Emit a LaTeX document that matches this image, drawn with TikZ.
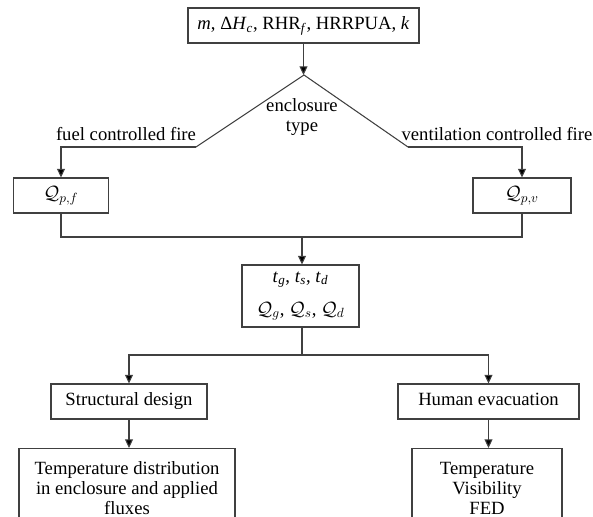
\documentclass[tikz,border=0pt]{standalone}
\usepackage{fontspec}
\setmainfont{Liberation Serif}
\usetikzlibrary{arrows.meta}
\begin{document}
\begin{tikzpicture}[x=0.75pt,y=-0.75pt,
  box/.style={draw=black!75, line width=0.8pt, inner sep=0pt, font=\fontsize{14}{15}\selectfont},
  onebox/.style={box, text height=10pt, text depth=3.5pt},
  lbl/.style={inner sep=0pt, font=\fontsize{14}{15}\selectfont, align=center},
  conn/.style={draw=black!75, line width=0.8pt},
  arr/.style={conn, -{Triangle[length=6.5pt,width=6pt,fill=black]}}]
\clip (0,0) rectangle (593,517);
\node[onebox, minimum width=173.25pt, minimum height=26.25pt] (top) at (303.5,25.5)
  {\textit{m}, Δ\textit{H}\textsubscript{\textit{c}}, RHR\textsubscript{\textit{f}}, HRRPUA, \textit{k}};
\coordinate (apex) at (304,75);
\coordinate (tl) at (196,147);
\coordinate (tr) at (408,147);
\draw[conn] (tl) -- (apex) -- (tr);
\node[lbl] (encl) at (302,117) {enclosure\\type};
\node[lbl] (fuel) at (126,134) {fuel controlled fire};
\node[lbl] (vent) at (497,134) {ventilation controlled fire};
\node[onebox, minimum width=71.25pt, minimum height=26.25pt] (qpf) at (61,195.5) {$\mathcal{Q}_{p,f}$};
\node[onebox, minimum width=73.5pt, minimum height=26.25pt] (qpv) at (522,195.5) {$\mathcal{Q}_{p,v}$};
\draw[arr] (top.south) -- (top.south |- apex);
\draw[arr] (tl) -| (qpf.north);
\draw[arr] (tr) -| (qpv.north);
\coordinate (j1) at (302,237);
\draw[conn] (qpf.south) |- (j1) -| (qpv.south);
\node[box, minimum width=87.75pt, minimum height=46.5pt, align=center, font=\fontsize{14}{24.75}\selectfont] (mid) at (300.5,296)
  {\textit{t}\textsubscript{\textit{g}}, \textit{t}\textsubscript{\textit{s}}, \textit{t}\textsubscript{\textit{d}}\\
   $\mathcal{Q}_g$, $\mathcal{Q}_s$, $\mathcal{Q}_d$};
\draw[arr] (j1) -- (j1 |- mid.north);
\coordinate (j2) at (302,355);
\draw[conn] (mid.south -| j2) -- (j2);
\node[onebox, minimum width=117pt, minimum height=26.25pt] (sd) at (129,401.5) {Structural design};
\node[onebox, minimum width=135.75pt, minimum height=26.25pt] (he) at (488.5,401.5) {Human evacuation};
\draw[arr] (j2) -| (sd.north);
\draw[arr] (j2) -| (he.north);
\node[box, anchor=north, minimum width=162pt, minimum height=75pt] (bl) at (127,448) {};
\node[lbl] (blt) at (127,488) {Temperature distribution\\in enclosure and applied\\fluxes};
\node[box, anchor=north, minimum width=112.5pt, minimum height=75pt] (br) at (487,448) {};
\node[lbl] (brt) at (487,488) {Temperature\\Visibility\\FED};
\draw[arr] (sd.south) -- (sd.south |- bl.north);
\draw[arr] (he.south) -- (he.south |- br.north);
\end{tikzpicture}
\end{document}
